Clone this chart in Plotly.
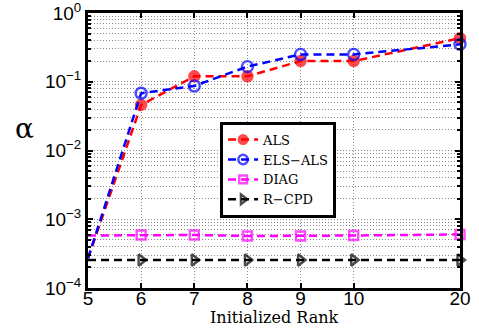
import plotly.graph_objects as go

rank_labels = ["5", "6", "7", "8", "9", "10", "20"]
x_pos = [1, 2, 3, 4, 5, 6, 8]

als = [2.7e-4, 0.046, 0.12, 0.12, 0.20, 0.20, 0.43]
els_als = [2.7e-4, 0.068, 0.087, 0.166, 0.25, 0.25, 0.35]
diag = [5.8e-4, 5.9e-4, 5.9e-4, 5.7e-4, 5.7e-4, 5.8e-4, 6.0e-4]
rcpd = [2.55e-4] * 7

y_tickvals = [1e-4, 1e-3, 1e-2, 1e-1, 1]
y_ticktext = ["10<sup>−4</sup>", "10<sup>−3</sup>", "10<sup>−2</sup>", "10<sup>−1</sup>", "10<sup>0</sup>"]

series = [
    ("ALS", als, "#ff0000", "circle", 10),
    ("ELS−ALS", els_als, "#0000ff", "circle-open", 11),
    ("DIAG", diag, "#ff00ff", "square-open", 9),
    ("R−CPD", rcpd, "#000000", "triangle-right-open", 10),
]

SERIF = "DejaVu Serif, Liberation Serif, serif"
SANS = "Liberation Sans, Arial, sans-serif"
GRID = "#8c8c8c"

fig = go.Figure()
for name, vals, col, sym, sz in series:
    fig.add_trace(go.Scatter(
        x=x_pos, y=vals, name=name, mode="lines+markers",
        line=dict(color=col, width=2.5, dash="8px,5px"),
        marker=dict(symbol=sym, size=[0] + [sz] * 6, color=col, line=dict(color=col, width=2.4)),
        cliponaxis=False,
    ))

fig.update_layout(
    width=479, height=334,
    margin=dict(l=88, r=19, t=13, b=46),
    paper_bgcolor="white", plot_bgcolor="white",
    showlegend=True,
    legend=dict(
        x=0.355, y=0.605, xanchor="left", yanchor="top",
        bgcolor="white", bordercolor="black", borderwidth=3,
        font=dict(family=SERIF, size=13, color="black"),
        itemsizing="trace", tracegroupgap=0, itemwidth=30,
    ),
    font=dict(family=SANS, size=19, color="black"),
)

fig.update_xaxes(
    range=[1, 8], tickvals=x_pos, ticktext=rank_labels, automargin=False,
    tickfont=dict(family=SANS, size=19, color="black"),
    ticklabelstandoff=-9, ticklabeloverflow="allow",
    showline=True, linewidth=3, linecolor="black", mirror="ticks",
    ticks="inside", ticklen=5, tickwidth=1.5, tickcolor="black",
    showgrid=True, gridcolor=GRID, griddash="1px,2px", gridwidth=1,
    zeroline=False,
)

fig.update_yaxes(
    type="log", range=[-4.0001, 0.0001], tickvals=y_tickvals, ticktext=y_ticktext, automargin=False,
    tickfont=dict(family=SANS, size=19, color="black"),
    ticklabeloverflow="allow",
    showline=True, linewidth=3, linecolor="black", mirror="ticks",
    ticks="inside", ticklen=5, tickwidth=1.5, tickcolor="black",
    showgrid=True, gridcolor=GRID, griddash="1px,2px", gridwidth=1,
    zeroline=False,
    minor=dict(showgrid=True, gridcolor=GRID, griddash="1px,2px", gridwidth=1,
               ticks="inside", ticklen=3, tickcolor="black", dtick="D1"),
)

fig.add_annotation(
    text="Initialized Rank", xref="paper", yref="paper", x=0.5, y=-0.108,
    xanchor="center", yanchor="middle", showarrow=False,
    font=dict(family=SERIF, size=16, color="black"),
)

fig.add_annotation(
    text="α", xref="paper", yref="paper", x=-0.17, y=0.58, xanchor="center", yanchor="middle",
    showarrow=False, font=dict(family=SERIF, size=28, color="black"),
)

fig.write_html("out.html", config={"displayModeBar": False},
               post_script="document.body.style.margin='0';")
